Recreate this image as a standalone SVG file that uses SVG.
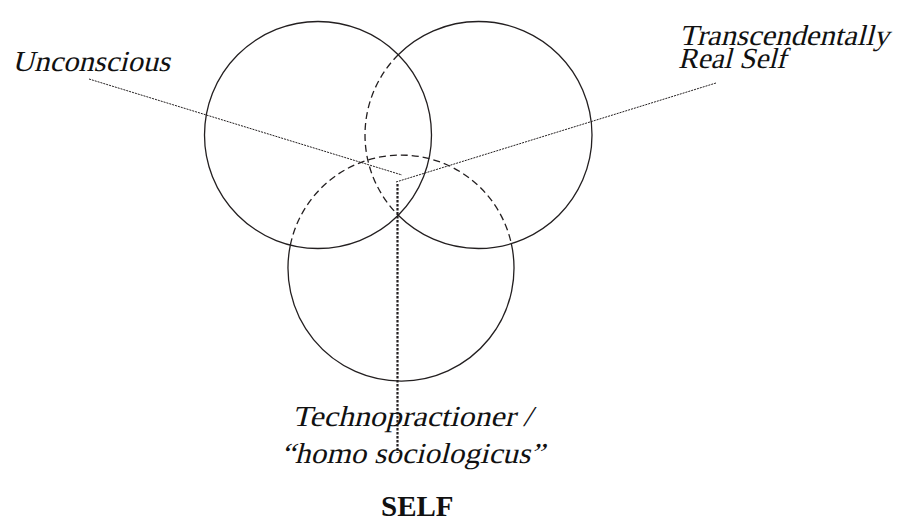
<svg xmlns="http://www.w3.org/2000/svg" width="907" height="529" viewBox="0 0 907 529">
<style>
.c{fill:none;stroke:#231f20;stroke-width:1.3}
.d{fill:none;stroke:#231f20;stroke-width:1.3;stroke-dasharray:7 4}
.l{fill:none;stroke:#231f20;stroke-width:1;stroke-dasharray:2 1}
.v{fill:none;stroke:#231f20;stroke-width:2.2;stroke-dasharray:2.5 1.5}
.t{font-family:"Liberation Serif",serif;font-size:29px;fill:#111}
.b{font-weight:bold}
</style>
<rect width="907" height="529" fill="#fff"/>
<g id="circle-unconscious">
<circle class="c" cx="318" cy="135" r="113.5"/>
</g>
<g id="circle-transcendental">
<path class="c" d="M398.25,54.74 A113.5,113.5 0 1 1 398.25,215.26"/>
<path class="d" d="M398.25,54.74 A113.5,113.5 0 0 0 398.25,215.26"/>
</g>
<g id="circle-technopractioner">
<path class="c" d="M511.33,243.65 A113,113 0 1 1 290.35,245.06"/>
<path class="d" d="M290.35,245.06 A113,113 0 0 1 511.33,243.65"/>
</g>
<g id="connectors">
<line class="l" x1="89" y1="79" x2="402" y2="175"/>
<line class="l" x1="396" y1="182" x2="716" y2="83"/>
<line class="v" x1="397.5" y1="184" x2="397.5" y2="453"/>
</g>
<g id="label-unconscious">
<text class="t" transform="translate(12,71) skewX(-14)" x="0" y="0" textLength="158" lengthAdjust="spacingAndGlyphs">Unconscious</text>
</g>
<g id="label-transcendental">
<text class="t" transform="translate(679,45) skewX(-14)" x="0" y="0" textLength="210" lengthAdjust="spacingAndGlyphs">Transcendentally</text>
<text class="t" transform="translate(678,68) skewX(-14)" x="0" y="0" textLength="108" lengthAdjust="spacingAndGlyphs">Real Self</text>
</g>
<g id="label-technopractioner">
<text class="t" transform="translate(292,426) skewX(-14)" x="0" y="0" textLength="240" lengthAdjust="spacingAndGlyphs">Technopractioner /</text>
<text class="t" transform="translate(281,463) skewX(-14)" x="0" y="0" textLength="263" lengthAdjust="spacingAndGlyphs">“homo sociologicus”</text>
</g>
<g id="label-self">
<text class="t b" x="381" y="516">SELF</text>
</g>
</svg>
